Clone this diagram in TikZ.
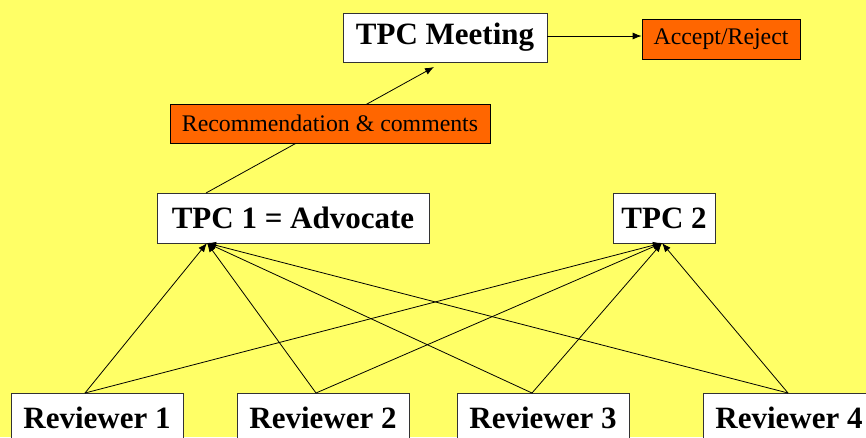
\documentclass[tikz,border=0pt]{standalone}
\usepackage{fontspec}
\setmainfont{Liberation Serif}
\usetikzlibrary{arrows.meta}
\definecolor{bgyellow}{HTML}{FFFF66}
\definecolor{boxorange}{HTML}{FF6600}
\definecolor{boxline}{HTML}{333333}
\tikzset{
  whitebox/.style={draw=boxline, line width=0.8pt, fill=white, inner sep=0pt, anchor=center,
    font=\fontsize{31}{33}\selectfont\bfseries},
  orangebox/.style={draw=black, line width=0.8pt, fill=boxorange, inner sep=0pt, anchor=center,
    font=\fontsize{23.8}{26}\selectfont},
  conn/.style={draw=black, line width=0.8pt, -{Latex[length=9pt,width=7pt]}},
  plainconn/.style={draw=black, line width=0.8pt}
}
\begin{document}
\begin{tikzpicture}[x=1pt,y=-1pt]
\useasboundingbox (0,0) rectangle (866,437);
\clip (0,0) rectangle (866,437);
\fill[bgyellow] (0,0) rectangle (866,437);

% nodes
\node[whitebox, minimum width=204pt, minimum height=49pt] (tm) at (445,37.5) {TPC Meeting};
\node[orangebox, minimum width=158pt, minimum height=40pt] (ar) at (721,39) {Accept/Reject};
\node[whitebox, minimum width=272pt, minimum height=50pt] (t1) at (293,218) {TPC 1 = Advocate};
\node[whitebox, minimum width=102pt, minimum height=50pt] (t2) at (664,218) {TPC 2};
\node[whitebox, minimum width=172pt, minimum height=50pt] (r1) at (97,418) {Reviewer 1};
\node[whitebox, minimum width=172pt, minimum height=50pt] (r2) at (323,418) {Reviewer 2};
\node[whitebox, minimum width=172pt, minimum height=50pt] (r3) at (543,418) {Reviewer 3};
\node[whitebox, minimum width=172pt, minimum height=50pt] (r4) at (789,418) {Reviewer 4};

% connector anchor points
\coordinate (t1top) at (206,193);
\coordinate (tmbot) at (434,67);
\coordinate (t1b) at (207,243);
\coordinate (t2b) at (662,243);
\coordinate (r1a) at (85,393);
\coordinate (r2a) at (316,393);
\coordinate (r3a) at (532,393);
\coordinate (r4a) at (788,393);

% connectors
\draw[conn] (tm.east |- 0,36) -- (ar.west |- 0,36);
\draw[conn] (t1top) -- (tmbot);
\foreach \r in {r1a,r2a,r3a,r4a}{
  \draw[conn] (\r) -- (t1b);
  \draw[conn] (\r) -- (t2b);
}

% recommendation box drawn over the line
\node[orangebox, minimum width=320pt, minimum height=39pt] (rec) at (330,123.5) {Recommendation \& comments};
\end{tikzpicture}
\end{document}
